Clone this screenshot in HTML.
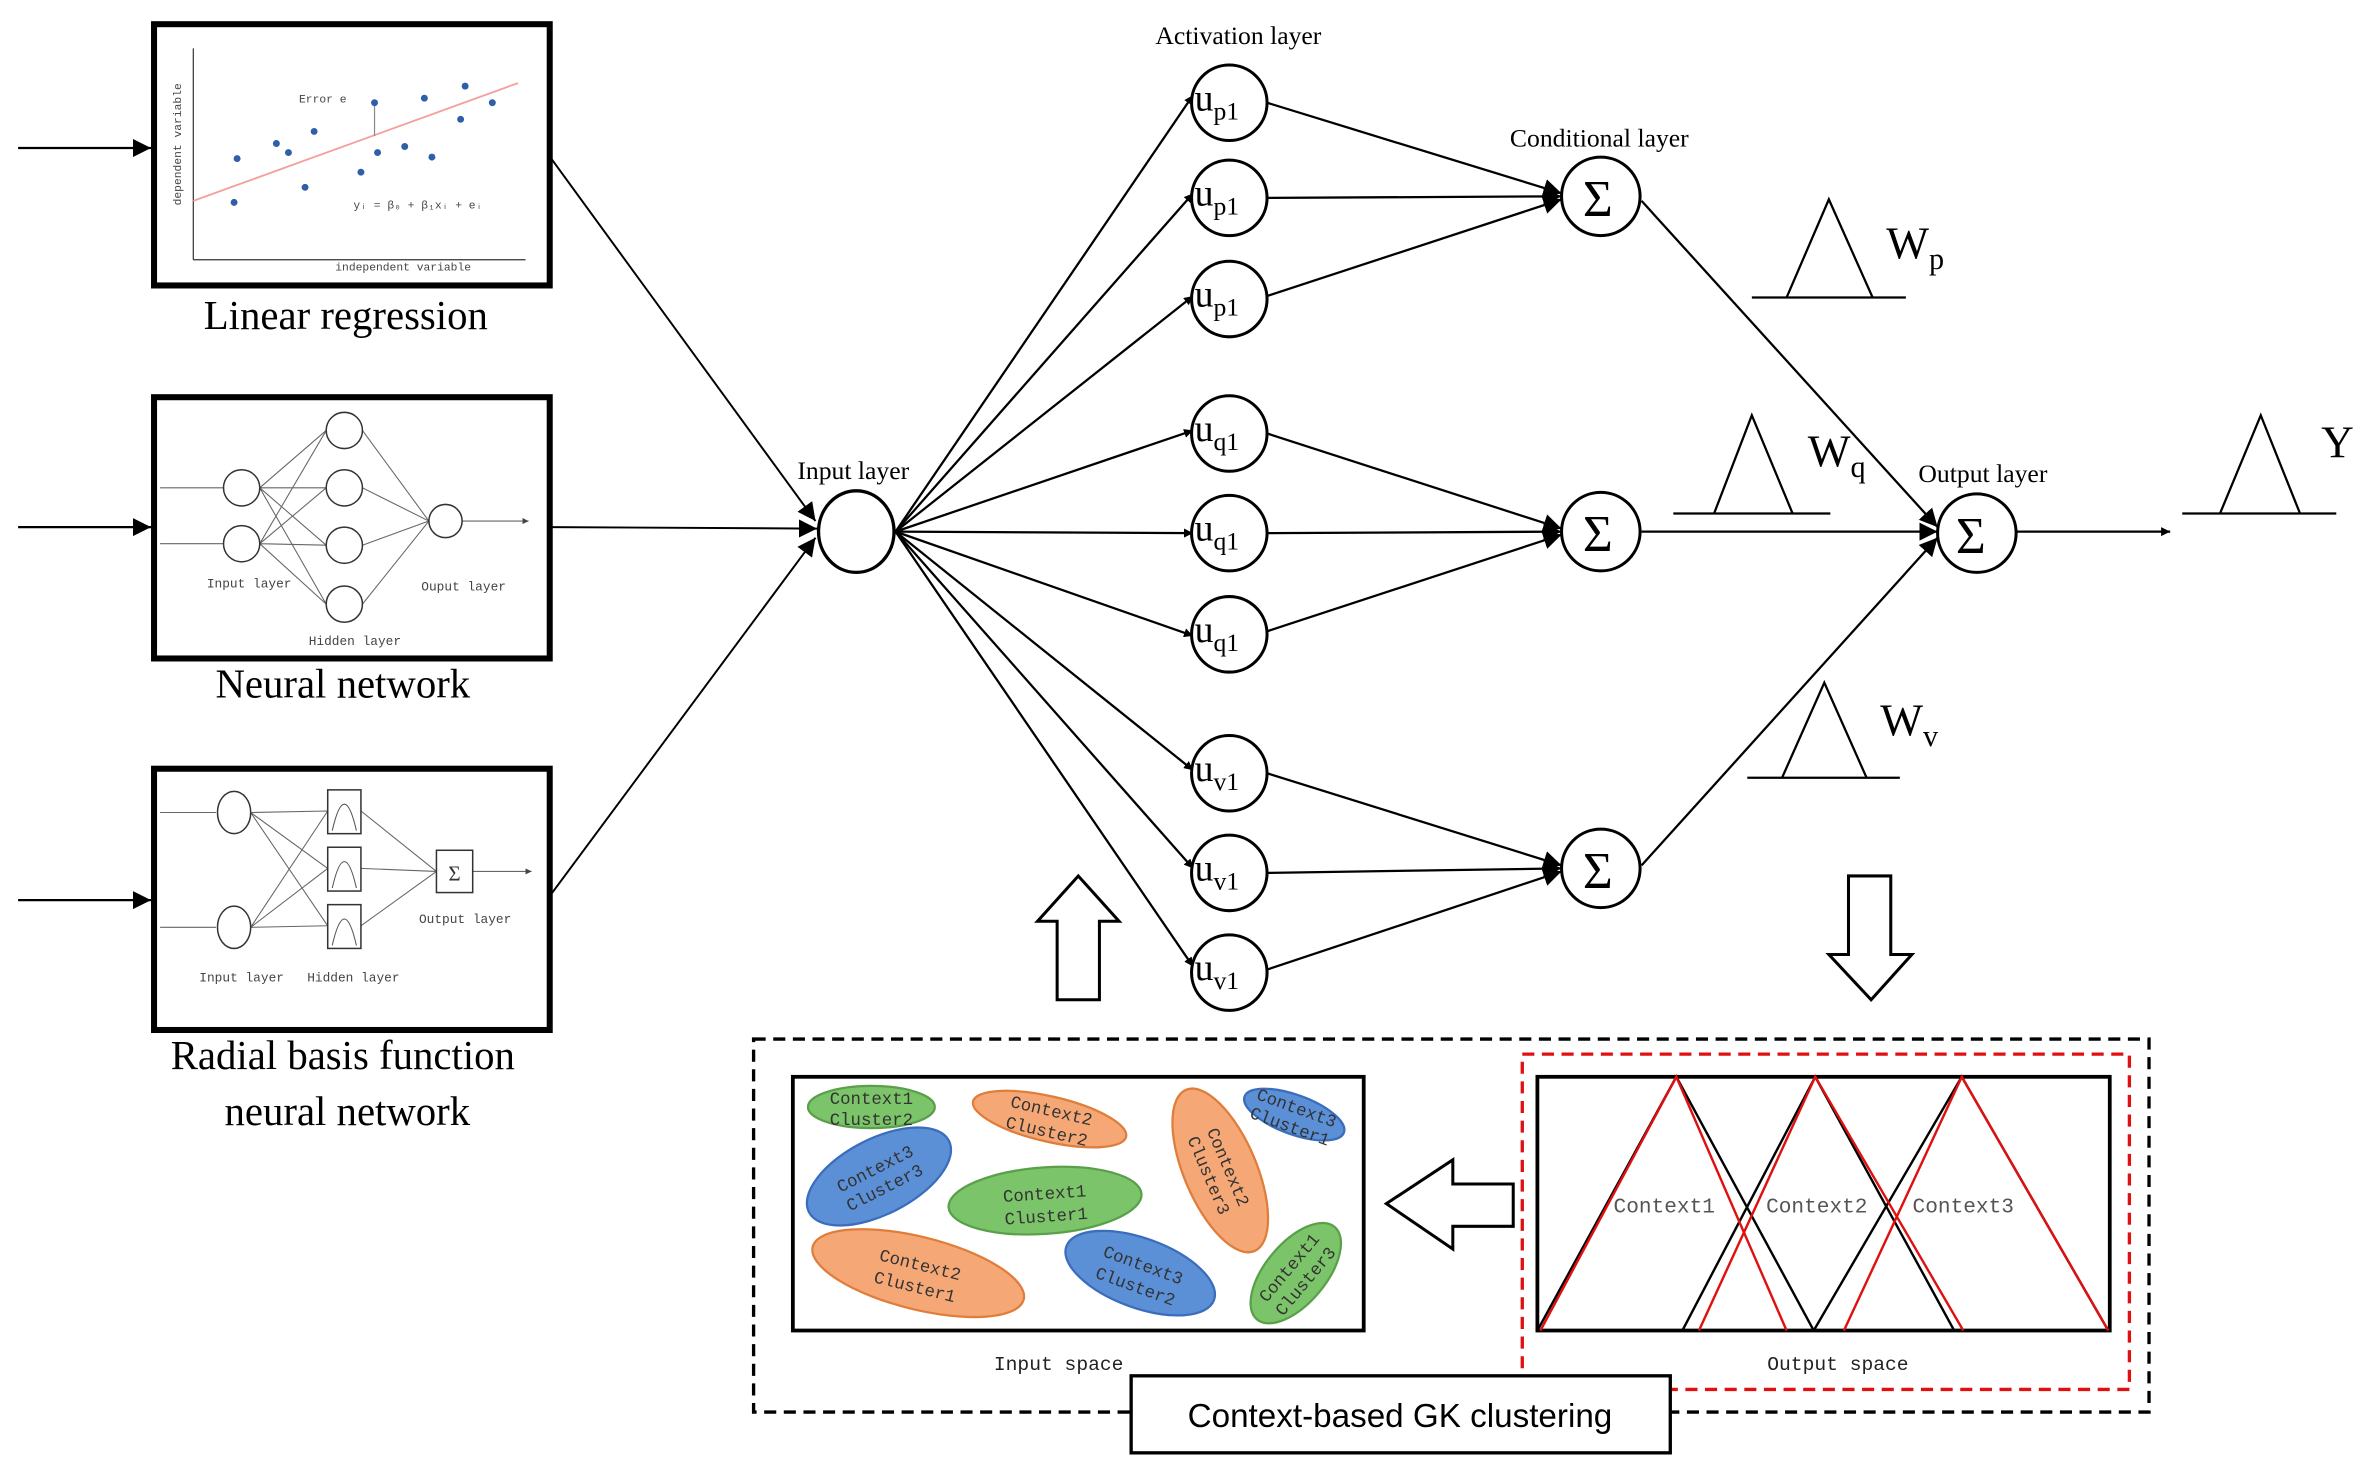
<!DOCTYPE html>
<html><head><meta charset="utf-8"><style>html,body{margin:0;padding:0;background:#fff}svg{display:block}</style></head>
<body>
<svg width="2368" height="1479" viewBox="0 0 1568 979.3" xmlns="http://www.w3.org/2000/svg" font-family="'Liberation Serif', serif">
<defs>
<marker id="a" viewBox="0 0 10 10" refX="10" refY="5" markerWidth="6" markerHeight="6" orient="auto" markerUnits="userSpaceOnUse"><path d="M0,0L10,5L0,10z" fill="#000"/></marker>
<marker id="b" viewBox="0 0 10 10" refX="10" refY="5" markerWidth="12" markerHeight="12" orient="auto" markerUnits="userSpaceOnUse"><path d="M0,0L10,5L0,10z" fill="#000"/></marker>
<marker id="s" viewBox="0 0 10 10" refX="10" refY="5" markerWidth="4" markerHeight="4" orient="auto" markerUnits="userSpaceOnUse"><path d="M0,0L10,5L0,10z" fill="#444"/></marker>
</defs>
<rect width="1568" height="980" fill="#fff"/>
<g stroke="#000" stroke-width="1.5" fill="none">
<line x1="12" y1="98" x2="100" y2="98" marker-end="url(#b)"/>
<line x1="12" y1="349" x2="100" y2="349" marker-end="url(#b)"/>
<line x1="12" y1="596" x2="100" y2="596" marker-end="url(#b)"/>
</g>
<!-- Box1 -->
<rect x="102" y="16" width="262" height="173" fill="#fff" stroke="#000" stroke-width="4"/>
<g stroke="#333" stroke-width="0.8" fill="none"><line x1="128" y1="32" x2="128" y2="172"/><line x1="128" y1="172" x2="348" y2="172"/></g>
<line x1="128" y1="133" x2="343" y2="55" stroke="#f4a0a0" stroke-width="1.2"/>
<line x1="248" y1="68" x2="248" y2="90" stroke="#888" stroke-width="0.8"/>
<g fill="#2f5fa8"><circle cx="157" cy="105" r="2.3"/><circle cx="155" cy="134" r="2.3"/><circle cx="183" cy="95" r="2.3"/><circle cx="191" cy="101" r="2.3"/><circle cx="208" cy="87" r="2.3"/><circle cx="202" cy="124" r="2.3"/><circle cx="239" cy="114" r="2.3"/><circle cx="250" cy="101" r="2.3"/><circle cx="268" cy="97" r="2.3"/><circle cx="281" cy="65" r="2.3"/><circle cx="286" cy="104" r="2.3"/><circle cx="305" cy="79" r="2.3"/><circle cx="308" cy="57" r="2.3"/><circle cx="326" cy="68" r="2.3"/><circle cx="248" cy="68" r="2.3"/></g>
<g font-family="'Liberation Mono',monospace" fill="#444" font-size="7.5">
<text x="198" y="68">Error e</text><text x="234" y="138">yᵢ = β₀ + β₁xᵢ + eᵢ</text>
<text x="222" y="179">independent variable</text>
<text transform="translate(120,136) rotate(-90)">dependent variable</text></g>
<text x="229" y="218" font-size="27" text-anchor="middle">Linear regression</text>
<!-- Box2 -->
<rect x="102" y="263" width="262" height="173" fill="#fff" stroke="#000" stroke-width="4"/>
<g stroke="#666" stroke-width="0.7" fill="none">
<line x1="106" y1="323" x2="148" y2="323"/><line x1="106" y1="360" x2="148" y2="360"/>
<path d="M172,323L216,285M172,323L216,323M172,323L216,361M172,323L216,400M172,360L216,285M172,360L216,323M172,360L216,361M172,360L216,400"/>
<path d="M240,285L284,345M240,323L284,345M240,361L284,345M240,400L284,345"/>
<line x1="306" y1="345" x2="350" y2="345" marker-end="url(#s)"/>
</g>
<g stroke="#333" stroke-width="1" fill="#fff">
<circle cx="160" cy="323" r="12"/><circle cx="160" cy="360" r="12"/>
<circle cx="228" cy="285" r="12"/><circle cx="228" cy="323" r="12"/><circle cx="228" cy="361" r="12"/><circle cx="228" cy="400" r="12"/>
<circle cx="295" cy="345" r="11"/></g>
<g font-family="'Liberation Mono',monospace" fill="#444" font-size="8.5" text-anchor="middle">
<text x="165" y="389">Input layer</text><text x="235" y="427">Hidden layer</text><text x="307" y="391">Ouput layer</text></g>
<text x="227" y="462" font-size="27" text-anchor="middle">Neural network</text>
<!-- Box3 -->
<rect x="102" y="509" width="262" height="173" fill="#fff" stroke="#000" stroke-width="4"/>
<g stroke="#666" stroke-width="0.7" fill="none">
<line x1="106" y1="538" x2="143" y2="538"/><line x1="106" y1="614" x2="143" y2="614"/>
<path d="M166,538L217,537M166,538L217,575M166,538L217,613M166,614L217,537M166,614L217,575M166,614L217,613"/>
<path d="M239,537L289,577M239,575L289,577M239,613L289,577"/>
<line x1="313" y1="577" x2="352" y2="577" marker-end="url(#s)"/>
</g>
<g stroke="#333" stroke-width="1" fill="#fff">
<ellipse cx="155" cy="538" rx="11" ry="14"/><ellipse cx="155" cy="614" rx="11" ry="14"/>
<rect x="217" y="523" width="22" height="29"/><rect x="217" y="561" width="22" height="29"/><rect x="217" y="599" width="22" height="29"/>
<rect x="289" y="563" width="24" height="28"/></g>
<g stroke="#555" stroke-width="0.7" fill="none"><path d="M220,550Q228,515 236,550M220,588Q228,553 236,588M220,626Q228,591 236,626"/></g>
<text x="301" y="583" font-size="14" text-anchor="middle" fill="#333">Σ</text>
<g font-family="'Liberation Mono',monospace" fill="#444" font-size="8.5" text-anchor="middle">
<text x="160" y="650">Input layer</text><text x="234" y="650">Hidden layer</text><text x="308" y="611">Output layer</text></g>
<text x="227" y="708" font-size="27" text-anchor="middle">Radial basis function</text>
<text x="230" y="745" font-size="27" text-anchor="middle">neural network</text>
<!-- connectors to input -->
<g stroke="#000" stroke-width="1.3" fill="none">
<line x1="365" y1="105" x2="540" y2="345" marker-end="url(#b)"/>
<line x1="365" y1="349" x2="541" y2="350" marker-end="url(#b)"/>
<line x1="365" y1="592" x2="540" y2="356" marker-end="url(#b)"/>
</g>
<ellipse cx="567" cy="352" rx="25" ry="27" fill="#fff" stroke="#000" stroke-width="2.2"/>
<text x="565" y="317" font-size="17" text-anchor="middle">Input layer</text>
<text x="820" y="29" font-size="17" text-anchor="middle">Activation layer</text>
<text x="1059" y="97" font-size="17" text-anchor="middle">Conditional layer</text>
<text x="1313" y="319" font-size="17" text-anchor="middle">Output layer</text>
<g stroke="#000" stroke-width="1.5" fill="none">
<line x1="593" y1="352" x2="790" y2="63" marker-end="url(#a)"/>
<line x1="593" y1="352" x2="790" y2="128" marker-end="url(#a)"/>
<line x1="593" y1="352" x2="790" y2="196" marker-end="url(#a)"/>
<line x1="593" y1="352" x2="790" y2="285" marker-end="url(#a)"/>
<line x1="593" y1="352" x2="790" y2="353" marker-end="url(#a)"/>
<line x1="593" y1="352" x2="790" y2="421" marker-end="url(#a)"/>
<line x1="593" y1="352" x2="790" y2="510" marker-end="url(#a)"/>
<line x1="593" y1="352" x2="790" y2="575" marker-end="url(#a)"/>
<line x1="593" y1="352" x2="790" y2="640" marker-end="url(#a)"/>
<line x1="839" y1="68" x2="1034" y2="128" marker-end="url(#b)"/>
<line x1="839" y1="131" x2="1034" y2="130" marker-end="url(#b)"/>
<line x1="839" y1="196" x2="1034" y2="132" marker-end="url(#b)"/>
<line x1="839" y1="287" x2="1034" y2="350" marker-end="url(#b)"/>
<line x1="839" y1="353" x2="1034" y2="352" marker-end="url(#b)"/>
<line x1="839" y1="418" x2="1034" y2="354" marker-end="url(#b)"/>
<line x1="839" y1="512" x2="1034" y2="573" marker-end="url(#b)"/>
<line x1="839" y1="578" x2="1034" y2="575" marker-end="url(#b)"/>
<line x1="839" y1="642" x2="1034" y2="577" marker-end="url(#b)"/>
<line x1="1087" y1="133" x2="1283" y2="349" marker-end="url(#b)"/>
<line x1="1087" y1="352" x2="1283" y2="352" marker-end="url(#b)"/>
<line x1="1087" y1="573" x2="1283" y2="356" marker-end="url(#b)"/>
<line x1="1335" y1="352" x2="1437" y2="352" marker-end="url(#a)"/>
</g>
<g stroke="#000" stroke-width="2" fill="#fff">
<circle cx="814" cy="68" r="25"/><circle cx="814" cy="131" r="25"/><circle cx="814" cy="198" r="25"/>
<circle cx="814" cy="287" r="25"/><circle cx="814" cy="353" r="25"/><circle cx="814" cy="420" r="25"/>
<circle cx="814" cy="512" r="25"/><circle cx="814" cy="578" r="25"/><circle cx="814" cy="644" r="25"/>
<circle cx="1060" cy="130" r="26"/><circle cx="1060" cy="352" r="26"/><circle cx="1060" cy="575" r="26"/>
<circle cx="1309" cy="353" r="26"/>
</g>
<g font-size="25">
<text x="791" y="73">u<tspan font-size="17" dy="6">p1</tspan></text>
<text x="791" y="136">u<tspan font-size="17" dy="6">p1</tspan></text>
<text x="791" y="203">u<tspan font-size="17" dy="6">p1</tspan></text>
<text x="791" y="292">u<tspan font-size="17" dy="6">q1</tspan></text>
<text x="791" y="358">u<tspan font-size="17" dy="6">q1</tspan></text>
<text x="791" y="425">u<tspan font-size="17" dy="6">q1</tspan></text>
<text x="791" y="517">u<tspan font-size="17" dy="6">v1</tspan></text>
<text x="791" y="583">u<tspan font-size="17" dy="6">v1</tspan></text>
<text x="791" y="649">u<tspan font-size="17" dy="6">v1</tspan></text>
</g>
<g font-size="34" text-anchor="middle">
<text x="1058" y="143">Σ</text><text x="1058" y="365">Σ</text><text x="1058" y="588">Σ</text><text x="1305" y="366">Σ</text></g>
<!-- triangles -->
<g stroke="#000" stroke-width="1.5" fill="none">
<line x1="1160" y1="197" x2="1262" y2="197"/><path d="M1183,197L1211,132L1240,197"/>
<line x1="1108" y1="340" x2="1212" y2="340"/><path d="M1135,340L1160,275L1187,340"/>
<line x1="1157" y1="515" x2="1258" y2="515"/><path d="M1180,515L1208,452L1236,515"/>
<line x1="1445" y1="340" x2="1547" y2="340"/><path d="M1470,340L1497,275L1523,340"/>
</g>
<g font-size="30"><text x="1249" y="171">W<tspan font-size="20" dy="7">p</tspan></text>
<text x="1197" y="309">W<tspan font-size="20" dy="7">q</tspan></text>
<text x="1245" y="487">W<tspan font-size="20" dy="7">v</tspan></text>
<text x="1537" y="303">Y</text></g>
<!-- hollow arrows -->
<g stroke="#000" stroke-width="2" fill="#fff">
<path d="M700,662L700,610L687,610L714,580L741,610L728,610L728,662Z"/>
<path d="M1224,580L1252,580L1252,632L1266,632L1239,662L1211,632L1224,632Z"/>
<path d="M1002,784L962,784L962,768L918,797L962,827L962,812L1002,812Z"/>
</g>
<!-- dashed -->
<rect x="499" y="688" width="924" height="247" fill="none" stroke="#000" stroke-width="2.2" stroke-dasharray="8,5"/>
<rect x="1008" y="698" width="402" height="222" fill="none" stroke="#e01010" stroke-width="2.2" stroke-dasharray="8,5"/>
<rect x="525" y="713" width="378" height="168" fill="#fff" stroke="#000" stroke-width="2.5"/>
<rect x="1018" y="713" width="379" height="168" fill="#fff" stroke="#000" stroke-width="2.5"/>
<!-- ellipses -->
<g stroke-width="1.5" font-family="'Liberation Mono',monospace" font-size="11.5" text-anchor="middle" fill="#333">
<g transform="translate(577,733)"><ellipse rx="42" ry="14" fill="#7cc46a" stroke="#5aa04a"/><text y="-2" fill="#333">Context1</text><text y="12" fill="#333">Cluster2</text></g>
<g transform="translate(695,741) rotate(13)"><ellipse rx="52" ry="15" fill="#f5a876" stroke="#e07d3a"/><text y="-2" fill="#333">Context2</text><text y="12" fill="#333">Cluster2</text></g>
<g transform="translate(857,738) rotate(20)"><ellipse rx="35" ry="13" fill="#5b8fd6" stroke="#3a6dbc"/><text y="-1" fill="#333">Context3</text><text y="12" fill="#333">Cluster1</text></g>
<g transform="translate(582,779) rotate(-27)"><ellipse rx="52" ry="25" fill="#5b8fd6" stroke="#3a6dbc"/><text y="-2" fill="#333">Context3</text><text y="12" fill="#333">Cluster3</text></g>
<g transform="translate(692,795) rotate(-4)"><ellipse rx="64" ry="22" fill="#7cc46a" stroke="#5aa04a"/><text y="-1" fill="#333">Context1</text><text y="14" fill="#333">Cluster1</text></g>
<g transform="translate(808,775) rotate(67)"><ellipse rx="58" ry="24" fill="#f5a876" stroke="#e07d3a"/><text y="-2" fill="#333">Context2</text><text y="12" fill="#333">Cluster3</text></g>
<g transform="translate(608,843) rotate(14)"><ellipse rx="72" ry="24" fill="#f5a876" stroke="#e07d3a"/><text y="-2" fill="#333">Context2</text><text y="13" fill="#333">Cluster1</text></g>
<g transform="translate(755,843) rotate(20)"><ellipse rx="52" ry="23" fill="#5b8fd6" stroke="#3a6dbc"/><text y="-2" fill="#333">Context3</text><text y="13" fill="#333">Cluster2</text></g>
<g transform="translate(858,843) rotate(-50)"><ellipse rx="40" ry="20" fill="#7cc46a" stroke="#5aa04a"/><text y="-2" fill="#333">Context1</text><text y="12" fill="#333">Cluster3</text></g>
</g>
<!-- output space triangles -->
<g fill="none" stroke-width="1.6">
<path d="M1018,881L1110,713L1201,881" stroke="#000"/>
<path d="M1114,881L1202,713L1294,881" stroke="#000"/>
<path d="M1201,881L1299,713L1396,881" stroke="#000"/>
<path d="M1020,881L1110,713L1183,881" stroke="#e01010"/>
<path d="M1125,881L1202,713L1300,881" stroke="#e01010"/>
<path d="M1221,881L1299,713L1396,881" stroke="#e01010"/>
</g>
<g font-family="'Liberation Mono',monospace" font-size="14" fill="#555" text-anchor="middle">
<text x="1102" y="803">Context1</text><text x="1203" y="803">Context2</text><text x="1300" y="803">Context3</text></g>
<g font-family="'Liberation Mono',monospace" font-size="13" fill="#222" text-anchor="middle">
<text x="701" y="907">Input space</text><text x="1217" y="907">Output space</text></g>
<rect x="749" y="911" width="357" height="51" fill="#fff" stroke="#000" stroke-width="2.2"/>
<text x="927" y="945" font-family="'Liberation Sans',sans-serif" font-size="22" text-anchor="middle">Context-based GK clustering</text>
</svg>
</body></html>
